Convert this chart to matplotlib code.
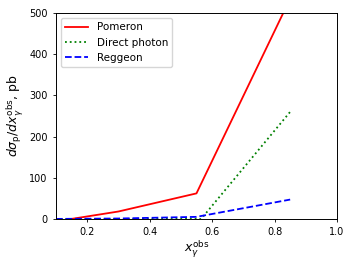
import numpy as np
import matplotlib.pyplot as plt

# values
x_pom = [0.15, 0.3, 0.55, 0.85]
pomeron = [0, 18, 62, 535]

x_dir = [0.1, 0.565, 0.85]
direct = [0, 0, 260]

x_reg = [0.1, 0.3, 0.55, 0.85]
reggeon = [0, 1, 5, 47]

fig = plt.figure(figsize=(3.54, 2.66), dpi=100)
ax = fig.add_axes([0.158, 0.177, 0.794, 0.774])

ax.plot(x_pom, pomeron, color='red', linewidth=1.3, label='Pomeron')
ax.plot(x_dir, direct, color='green', linestyle=':', linewidth=1.3, label='Direct photon')
ax.plot(x_reg, reggeon, color='blue', linestyle='--', linewidth=1.3, label='Reggeon')

ax.set_xlim(0.1, 1.0)
ax.set_ylim(0, 500)
ax.set_xticks([0.2, 0.4, 0.6, 0.8, 1.0])
ax.tick_params(labelsize=7, length=2.5, width=0.6)
for s in ax.spines.values():
    s.set_linewidth(0.7)

ax.set_xlabel(r'$x_{\gamma}^{\mathrm{obs}}$', fontsize=9, labelpad=1)
ax.set_ylabel(r'$d\sigma_{\mathrm{p}}/dx_{\gamma}^{\mathrm{obs}}$, pb', fontsize=9, labelpad=2)
ax.legend(loc='upper left', fontsize=7.5, handlelength=2.2)

fig.savefig('out.png', dpi=100)
